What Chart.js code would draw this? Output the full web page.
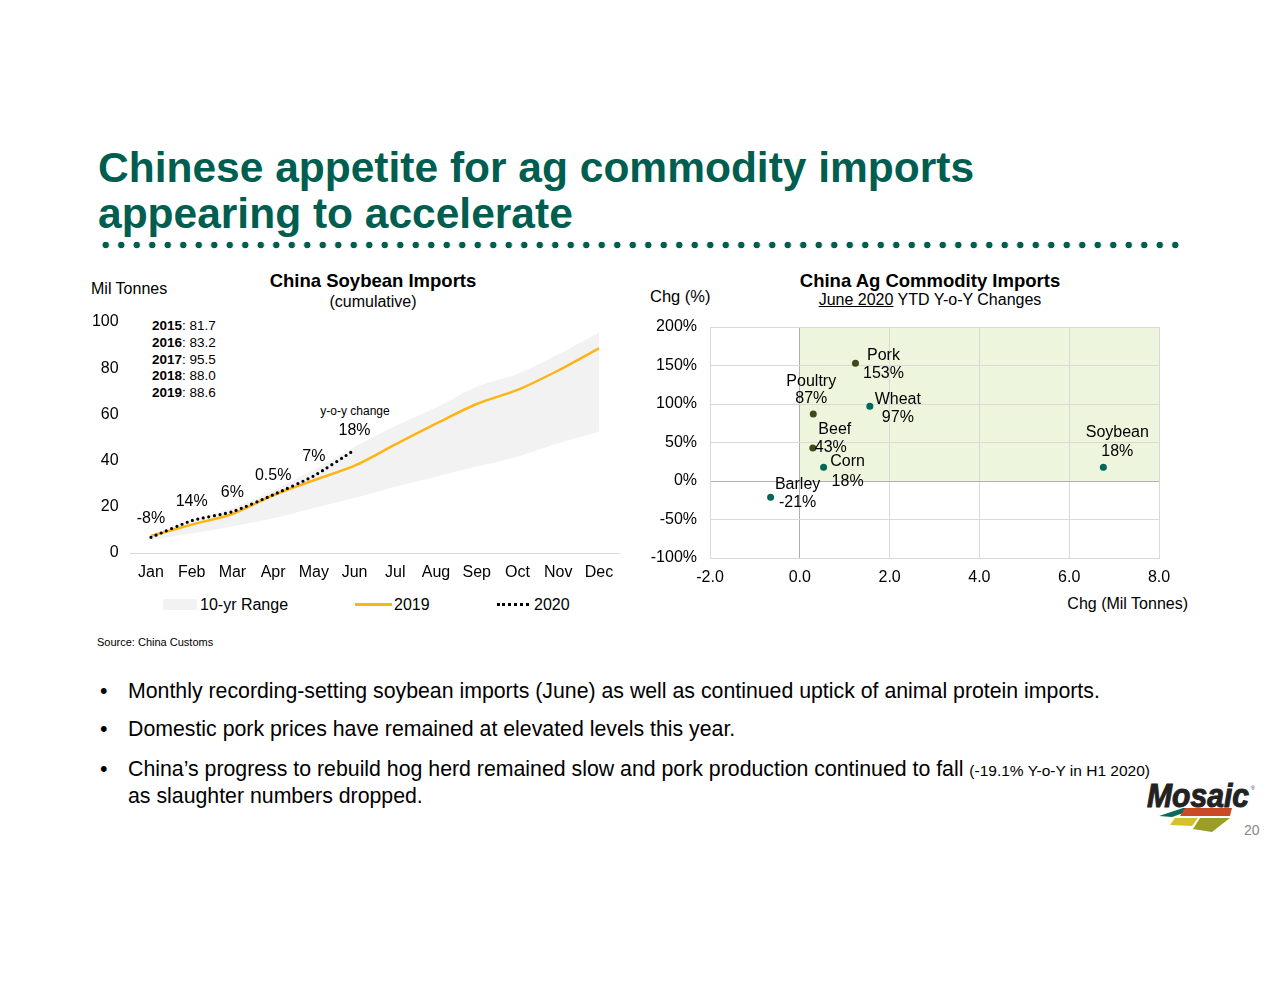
<!DOCTYPE html>
<html>
<head>
<meta charset="utf-8">
<script src="https://cdn.jsdelivr.net/npm/chart.js@4.4.1/dist/chart.umd.min.js"></script>
<style>
  body { margin: 0; background: #fff; font-family: "Liberation Sans", Arial, sans-serif; color: #000; }
  #page { position: relative; width: 1280px; height: 989px; overflow: hidden; }
  .abs { position: absolute; white-space: nowrap; }
  h1 { position: absolute; left: 98px; top: 145px; margin: 0; font-size: 42.5px; line-height: 46px; font-weight: bold; color: #005e50; }
  #dots { position: absolute; left: 98px; top: 241px; width: 1084px; height: 8px;
    background-image: radial-gradient(circle, #005e50 3.1px, transparent 3.6px);
    background-size: 15.5px 8px; }
  .ctitle { font-weight: bold; font-size: 18.5px; transform: translateX(-50%); }
  .csub { font-size: 16px; transform: translateX(-50%); }
  .bul { font-size: 21.3px; left: 100px; }
  .bul span.b { display: inline-block; width: 28px; }
  .leg { font-size: 16px; }
</style>
</head>
<body>
<div id="page">
  <h1>Chinese appetite for ag commodity imports<br>appearing to accelerate</h1>
  <div id="dots"></div>

  <!-- left panel -->
  <div class="abs" style="left:91px;top:280px;font-size:16px;">Mil Tonnes</div>
  <div class="abs ctitle" style="left:373px;top:270px;">China Soybean Imports</div>
  <div class="abs csub" style="left:373px;top:293px;">(cumulative)</div>
  <div class="abs" style="left:152px;top:318px;font-size:13.5px;line-height:16.8px;">
    <b>2015</b>: 81.7<br><b>2016</b>: 83.2<br><b>2017</b>: 95.5<br><b>2018</b>: 88.0<br><b>2019</b>: 88.6
  </div>
  <div class="abs" style="left:355px;top:404px;font-size:12px;transform:translateX(-50%);">y-o-y change</div>
  <canvas id="soy" class="abs" style="left:85px;top:312px;"></canvas>

  <div class="abs" style="left:163px;top:599px;width:34px;height:11px;background:#f2f2f2;"></div>
  <div class="abs leg" style="left:200px;top:596px;">10-yr Range</div>
  <div class="abs" style="left:355px;top:603px;width:37px;height:3px;background:#fdb515;"></div>
  <div class="abs leg" style="left:394px;top:596px;">2019</div>
  <div class="abs" style="left:497px;top:603px;width:32px;height:0;border-top:3px dotted #000;"></div>
  <div class="abs leg" style="left:534px;top:596px;">2020</div>

  <!-- right panel -->
  <div class="abs" style="left:650px;top:287px;font-size:16.5px;">Chg (%)</div>
  <div class="abs ctitle" style="left:930px;top:270px;">China Ag Commodity Imports</div>
  <div class="abs csub" style="left:930px;top:291px;"><u>June 2020</u> YTD Y-o-Y Changes</div>
  <canvas id="ag" class="abs" style="left:640px;top:317px;"></canvas>
  <div class="abs" style="right:92px;top:595px;font-size:16px;">Chg (Mil Tonnes)</div>

  <div class="abs" style="left:97px;top:636px;font-size:11px;">Source: China Customs</div>

  <div class="abs bul" style="top:679px;"><span class="b">•</span>Monthly recording-setting soybean imports (June) as well as continued uptick of animal protein imports.</div>
  <div class="abs bul" style="top:717px;"><span class="b">•</span>Domestic pork prices have remained at elevated levels this year.</div>
  <div class="abs bul" style="top:757px;line-height:24.5px;"><span class="b">•</span>China’s progress to rebuild hog herd remained slow and pork production continued to fall <span style="font-size:15.5px;">(-19.1% Y-o-Y in H1 2020)</span><br><span class="b"></span>as slaughter numbers dropped.</div>

  <!-- logo -->
  <svg class="abs" style="left:1135px;top:775px;" width="125" height="70">
    <text x="12" y="32" font-family="Liberation Sans, Arial" font-weight="bold" font-style="italic" font-size="33" fill="#222" stroke="#222" stroke-width="1" textLength="102" lengthAdjust="spacingAndGlyphs">Mosaic</text>
    <text x="116" y="15" font-family="Liberation Sans, Arial" font-size="5" fill="#333">®</text>
    <polygon points="24,41 48,33 63,33 37,42" fill="#0a6b5c"/>
    <polygon points="50,33 97,33 95,41 45,41" fill="#c94a25"/>
    <polygon points="40,43 63,43 57,51 35,50" fill="#d4c12c"/>
    <polygon points="65,43 95,43 77,57 58,54" fill="#9a9e28"/>
  </svg>
  <div class="abs" style="left:1244px;top:822px;font-size:14px;color:#888;">20</div>
</div>

<script>
Chart.defaults.font.family = "'Liberation Sans', Arial, sans-serif";
Chart.defaults.color = "#000";
Chart.defaults.animation = false;

// ---- China soybean imports (cumulative, Mil Tonnes)
const months = ["Jan", "Feb", "Mar", "Apr", "May", "Jun", "Jul", "Aug", "Sep", "Oct", "Nov", "Dec"];
const rangeLow = [5.5, 8.5, 11.5, 15, 19.5, 23.8, 28.7, 33, 37.4, 41.7, 47.5, 52.5];
const rangeHigh = [8, 14, 19.5, 27, 36, 46, 55, 63, 72, 77.5, 86, 95.5];
const soy2019 = [7.4, 12.3, 16.9, 25, 31.5, 37.8, 47, 56, 64.5, 70.6, 79, 88.6];
const soy2020 = [6.8, 14, 17.9, 25.2, 33.4, 44.6, null, null, null, null, null, null];
const yoyLabels = ["-8%", "14%", "6%", "0.5%", "7%", "18%"];
const soyTicks = [0, 20, 40, 60, 80, 100];

// ---- China ag commodity imports, June 2020 YTD y-o-y
const commodities = ["Pork", "Poultry", "Wheat", "Beef", "Corn", "Barley", "Soybean"];
const chgTonnes = [1.24, 0.3, 1.56, 0.29, 0.53, -0.65, 6.76];
const chgPct = [153, 87, 97, 43, 18, -21, 18];
const isMeat = [true, true, false, true, false, false, false];

function sizeCanvas(id, w, h) {
  const c = document.getElementById(id);
  c.width = w; c.height = h;
  c.style.width = w + "px"; c.style.height = h + "px";
  return c.getContext("2d");
}

// keep the plot area where the layout padding says
function noPad(s) {
  s.paddingTop = 0; s.paddingBottom = 0; s.paddingLeft = 0; s.paddingRight = 0;
}

const yoyPlugin = {
  id: "yoy",
  afterDatasetsDraw(chart) {
    const ctx = chart.ctx;
    const meta = chart.getDatasetMeta(3);
    ctx.save();
    ctx.font = "16px 'Liberation Sans', Arial";
    ctx.fillStyle = "#000";
    ctx.textAlign = "center";
    ctx.textBaseline = "middle";
    yoyLabels.forEach((t, i) => {
      const p = meta.data[i];
      ctx.fillText(t, p.x, p.y - 19);
    });
    ctx.restore();
  }
};

new Chart(sizeCanvas("soy", 540, 271), {
  type: "line",
  data: {
    labels: months,
    datasets: [
      { label: "low", data: rangeLow, borderColor: "transparent", borderWidth: 0, pointRadius: 0, fill: false, tension: 0.3, order: 3 },
      { label: "10-yr Range", data: rangeHigh, borderColor: "transparent", borderWidth: 0, pointRadius: 0, fill: "-1", backgroundColor: "#f2f2f2", tension: 0.3, order: 2 },
      { label: "2019", data: soy2019, borderColor: "#fdb515", borderWidth: 2.5, pointRadius: 0, fill: false, tension: 0.3, order: 1 },
      { label: "2020", data: soy2020, borderColor: "#000", borderWidth: 3.2, borderDash: [0, 5.6], borderCapStyle: "round", pointRadius: 0, fill: false, tension: 0.2, order: 0 }
    ]
  },
  options: {
    responsive: false,
    layout: { padding: { top: 10, right: 5.7, left: 0, bottom: 0 } },
    plugins: { legend: { display: false }, tooltip: { enabled: false } },
    scales: {
      x: {
        offset: true,
        grid: { display: false, drawTicks: false },
        border: { display: true, color: "#d9d9d9" },
        ticks: { font: { size: 16 }, padding: 10, maxRotation: 0 },
        afterFit: s => { s.height = 30; noPad(s); }
      },
      y: {
        min: 0, max: 100,
        afterBuildTicks: s => { s.ticks = soyTicks.map(v => ({ value: v })); },
        grid: { display: false, drawTicks: false },
        border: { display: false },
        ticks: { font: { size: 16 }, padding: 12 },
        afterFit: s => { s.width = 45.6; noPad(s); }
      }
    }
  },
  plugins: [yoyPlugin]
});

// label offsets [dx, dy name, dy value] relative to each point
const labelOffsets = [
  [28, -8, 10], [-2, -32, -15], [28, -7, 11], [22, -18, 0], [24, -6, 14], [27, -13, 5], [14, -35, -16]
];

const agPlugin = {
  id: "ag",
  beforeDraw(chart) {
    const { ctx, scales: { x, y } } = chart;
    ctx.save();
    ctx.fillStyle = "#eef5dd";
    const x0 = x.getPixelForValue(0), x1 = x.getPixelForValue(8);
    const y0 = y.getPixelForValue(0), y1 = y.getPixelForValue(200);
    ctx.fillRect(x0, y1, x1 - x0, y0 - y1);
    ctx.restore();
  },
  afterDatasetsDraw(chart) {
    const ctx = chart.ctx;
    const meta = chart.getDatasetMeta(0);
    ctx.save();
    ctx.font = "16px 'Liberation Sans', Arial";
    ctx.fillStyle = "#000";
    ctx.textAlign = "center";
    ctx.textBaseline = "middle";
    commodities.forEach((name, i) => {
      const p = meta.data[i];
      const o = labelOffsets[i];
      const dxv = name === "Beef" ? -4 : 0;
      ctx.fillText(name, p.x + o[0], p.y + o[1]);
      ctx.fillText(chgPct[i] + "%", p.x + o[0] + dxv, p.y + o[2]);
    });
    ctx.restore();
  }
};

new Chart(sizeCanvas("ag", 530, 271), {
  type: "scatter",
  data: {
    datasets: [{
      data: chgTonnes.map((v, i) => ({ x: v, y: chgPct[i] })),
      pointRadius: 3.5,
      pointBorderWidth: 0,
      pointBackgroundColor: isMeat.map(m => m ? "#3f4a1c" : "#00675a")
    }]
  },
  options: {
    responsive: false,
    layout: { padding: { top: 10, right: 11, left: 0, bottom: 0 } },
    plugins: { legend: { display: false }, tooltip: { enabled: false } },
    scales: {
      x: {
        min: -2, max: 8,
        ticks: { stepSize: 2, font: { size: 16 }, padding: 10, callback: v => v.toFixed(1) },
        grid: { color: c => c.tick && c.tick.value === 0 ? "#b0b0b0" : "#d9d9d9", drawTicks: false },
        border: { color: "#d9d9d9" },
        afterFit: s => { s.height = 30; noPad(s); }
      },
      y: {
        min: -100, max: 200,
        ticks: { stepSize: 50, font: { size: 16 }, padding: 13, callback: v => v + "%" },
        grid: { color: c => c.tick && c.tick.value === 0 ? "#b0b0b0" : "#d9d9d9", drawTicks: false },
        border: { color: "#d9d9d9" },
        afterFit: s => { s.width = 70; noPad(s); }
      }
    }
  },
  plugins: [agPlugin]
});
</script>
</body>
</html>
